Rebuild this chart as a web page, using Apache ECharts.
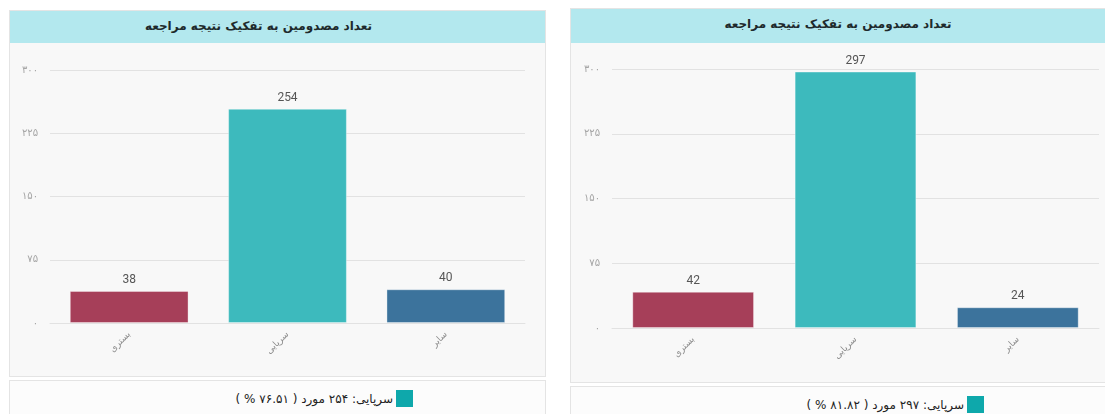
<!DOCTYPE html>
<html>
<head>
<meta charset="utf-8">
<script src="https://cdn.jsdelivr.net/npm/echarts@6/dist/echarts.min.js"></script>
<style>
  html, body {
    margin: 0;
    padding: 0;
    width: 1105px;
    height: 414px;
    overflow: hidden;
    background: #fff;
    font-family: "DejaVu Sans", "Noto Sans", sans-serif;
  }
  .panel {
    position: absolute;
    box-sizing: border-box;
    border: 1px solid #e4e4e4;
    background: #f8f8f8;
  }
  .header {
    position: absolute;
    background: #b3e8ee;
    color: #1e2a2c;
    font-weight: bold;
    font-size: 12px;
    text-align: center;
    direction: rtl;
  }
  .chart {
    position: absolute;
  }
  .footer {
    position: absolute;
    box-sizing: border-box;
    border: 1px solid #e4e4e4;
    background: #fcfcfc;
  }
  .legend {
    position: absolute;
    direction: rtl;
    white-space: nowrap;
    font-size: 12px;
    color: #222;
    display: flex;
    align-items: center;
  }
  .legend span.box {
    display: inline-block;
    width: 17px;
    height: 17px;
    margin-left: 3px;
  }
</style>
</head>
<body>

<div class="panel" style="left:9px;top:10px;width:537px;height:367px;"></div>
<div class="header" id="titleA" style="left:10px;top:11px;width:497px;padding-right:38px;height:32px;line-height:30px;"></div>
<div class="chart" id="chartA" style="left:10px;top:43px;width:535px;height:333px;"></div>
<div class="footer" style="left:9px;top:380px;width:537px;height:40px;"></div>
<div class="legend" id="legendA" style="right:692px;top:390px;height:17px;"></div>

<div class="panel" style="left:570px;top:8px;width:540px;height:375px;"></div>
<div class="header" id="titleB" style="left:571px;top:9px;width:534px;height:34px;line-height:30px;"></div>
<div class="chart" id="chartB" style="left:571px;top:43px;width:534px;height:339px;"></div>
<div class="footer" style="left:570px;top:386px;width:540px;height:40px;"></div>
<div class="legend" id="legendB" style="right:121px;top:396px;height:17px;"></div>

<script>
const chartTitle = 'تعداد مصدومین به تفکیک نتیجه مراجعه'
const categories = ['بستری', 'سرپایی', 'سایر']
const valuesA = [38, 254, 40]
const valuesB = [42, 297, 24]
const yMin = 0
const yMax = 300
const yStep = 75

const barColors = ['#a63f59', '#3dbabd', '#3c739c']

function faDigits(s) {
  return String(s).replace(/\d/g, d => '۰۱۲۳۴۵۶۷۸۹'[d])
}

function makeOption(values, grid) {
  return {
    animation: false,
    grid: grid,
    xAxis: {
      type: 'category',
      data: categories,
      axisLine: { lineStyle: { color: '#e2e2e2' } },
      axisTick: { show: false },
      axisLabel: {
        rotate: 45,
        margin: 10,
        fontSize: 9,
        color: '#8a8a8a',
        fontFamily: 'DejaVu Sans'
      }
    },
    yAxis: {
      type: 'value',
      min: yMin,
      max: yMax,
      interval: yStep,
      axisLine: { show: false },
      axisTick: { show: false },
      splitLine: { lineStyle: { color: '#e2e2e2' } },
      axisLabel: {
        margin: 12,
        fontSize: 10,
        color: '#a5a5a5',
        fontFamily: 'DejaVu Sans',
        formatter: v => faDigits(v)
      }
    },
    series: [
      {
        type: 'bar',
        barWidth: '75%',
        data: values.map((v, i) => ({
          value: v,
          itemStyle: {
            color: barColors[i],
            borderColor: 'rgba(255,255,255,0.35)',
            borderWidth: 1
          }
        })),
        label: {
          show: true,
          position: 'top',
          distance: 5,
          fontSize: 12,
          color: '#555',
          fontFamily: 'Roboto'
        }
      }
    ]
  }
}

function legendHtml(values) {
  const total = values.reduce((a, b) => a + b, 0)
  let top = 0
  values.forEach((v, i) => { if (v > values[top]) top = i })
  const pct = (values[top] / total * 100).toFixed(2)
  const text = categories[top] + ': ' + faDigits(values[top]) + ' مورد ( ' + faDigits(pct) + ' % )'
  return '<span class="box" style="background:#0ea8ab"></span><span>' + text + '</span>'
}

document.getElementById('titleA').textContent = chartTitle
document.getElementById('titleB').textContent = chartTitle
document.getElementById('legendA').innerHTML = legendHtml(valuesA)
document.getElementById('legendB').innerHTML = legendHtml(valuesB)

const chartA = echarts.init(document.getElementById('chartA'))
chartA.setOption(makeOption(valuesA, { left: 40, top: 27, width: 475, height: 253 }))

const chartB = echarts.init(document.getElementById('chartB'))
chartB.setOption(makeOption(valuesB, { left: 41, top: 26, width: 487, height: 259 }))

window.addEventListener('resize', function() {
  chartA.resize()
  chartB.resize()
})
</script>
</body>
</html>
